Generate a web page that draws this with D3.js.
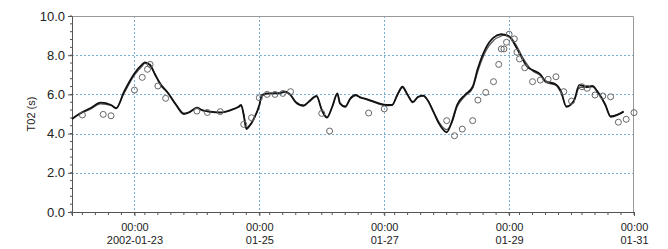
<!DOCTYPE html>
<html>
  <head>
    <script src="https://cdn.jsdelivr.net/npm/d3@7"></script>
    <style>
      body { margin: 0; background: #fff; }
      text { font-family: "Liberation Sans", Arial, sans-serif; font-size: 11px; fill: #222; }
    </style>
  </head>
  <body>
    <div id="chart"></div>
    <script>
      // model times (hours after 2002-01-22 00:00) and T02 values
      const modelHours = [0, 3, 7, 11, 15, 17, 20, 24, 27, 28, 30, 32, 34, 37, 40, 43, 45, 48, 50, 53,
        57, 61, 64, 65, 66, 67, 68, 70, 72, 73, 75, 79, 82, 84, 86, 89, 91, 94, 96, 98, 100, 102, 103,
        105, 107, 109, 111, 113, 116, 118, 121, 123, 125, 127, 129, 131, 133, 135, 137, 139, 141, 144,
        146, 148, 151, 154, 156, 159, 162, 165, 166, 168, 171, 173, 175, 177, 180, 182, 186, 188, 190,
        193, 195, 198, 200, 202, 205, 207, 210, 212];
      const modelA = [4.74, 5.03, 5.29, 5.58, 5.46, 5.29, 6.14, 7.07, 7.53, 7.63, 7.50, 6.99, 6.51, 6.05,
        5.46, 5.00, 5.08, 5.32, 5.20, 5.12, 5.08, 5.20, 5.37, 5.46, 4.95, 4.23, 4.35, 4.78, 5.46, 5.97,
        6.05, 6.05, 6.14, 5.97, 5.60, 5.42, 5.63, 5.92, 5.20, 4.81, 5.37, 6.05, 5.54, 5.37, 5.80, 5.97,
        5.83, 5.77, 5.63, 5.54, 5.46, 5.46, 5.97, 6.39, 5.97, 5.60, 5.88, 5.94, 5.63, 5.08, 4.52, 4.07,
        4.61, 5.46, 5.97, 6.39, 7.33, 8.35, 8.90, 9.07, 9.05, 8.95, 8.35, 7.84, 7.41, 7.24, 7.02, 6.68,
        6.51, 6.14, 5.37, 5.71, 6.48, 6.39, 6.43, 6.14, 5.46, 4.86, 4.98, 5.12];
      const modelB = [4.78, 5.00, 5.25, 5.52, 5.44, 5.32, 6.05, 6.98, 7.45, 7.58, 7.48, 7.02, 6.56, 6.08,
        5.50, 5.04, 5.10, 5.28, 5.18, 5.10, 5.06, 5.18, 5.34, 5.42, 5.00, 4.30, 4.40, 4.80, 5.40, 5.90,
        6.02, 6.08, 6.10, 5.95, 5.62, 5.45, 5.60, 5.88, 5.25, 4.86, 5.33, 6.00, 5.56, 5.40, 5.76, 5.94,
        5.86, 5.74, 5.60, 5.50, 5.42, 5.44, 5.92, 6.34, 5.99, 5.63, 5.85, 5.91, 5.66, 5.12, 4.60, 4.20,
        4.55, 5.35, 5.90, 6.32, 7.18, 8.20, 8.75, 8.98, 9.02, 8.98, 8.45, 7.95, 7.52, 7.20, 6.96, 6.62,
        6.46, 6.06, 5.40, 5.66, 6.36, 6.36, 6.38, 6.12, 5.48, 4.90, 5.00, 5.14];

      // observations
      const obsHours = [4, 12, 15, 24, 27, 29, 30, 33, 36, 48, 52, 57, 66, 69, 72, 75, 78, 81, 84, 96, 99,
        114, 120, 144, 147, 150, 154, 156, 159, 162, 164, 165, 166, 167, 168, 170, 171, 172, 174, 177,
        180, 183, 186, 189, 192, 196, 198, 201, 204, 207, 210, 213, 216];
      const obsValues = [4.95, 4.98, 4.91, 6.22, 6.87, 7.28, 7.53, 6.43, 5.80, 5.15, 5.08, 5.12, 4.47,
        4.81, 5.83, 6.00, 6.00, 6.05, 6.14, 5.03, 4.13, 5.05, 5.26, 4.66, 3.89, 4.23, 4.66, 5.71, 6.10,
        6.65, 7.53, 8.32, 8.32, 8.66, 9.07, 8.83, 8.15, 7.81, 7.36, 6.65, 6.73, 6.77, 6.90, 6.14, 5.66,
        6.39, 6.31, 5.97, 5.92, 5.88, 4.58, 4.73, 5.07];

      const yTicks = [0, 2, 4, 6, 8, 10];
      const xTickDays = ["2002-01-23", "2002-01-25", "2002-01-27", "2002-01-29", "2002-01-31"];
      const yLabel = "T02 (s)";

      const W = 668, H = 249;
      const margin = { top: 16, right: 34, bottom: 37, left: 72 };
      const width = W - margin.left - margin.right;
      const height = H - margin.top - margin.bottom;

      const parse = d3.utcParse("%Y-%m-%d");
      const t0 = parse("2002-01-22");
      const t1 = parse("2002-01-31");
      const hr = (h) => d3.utcHour.offset(t0, h);

      const x = d3.scaleUtc().domain([t0, t1]).range([0, width]);
      const y = d3.scaleLinear().domain([0, 10]).range([height, 0]);

      const svg = d3.select("#chart").append("svg")
        .attr("width", W).attr("height", H)
        .append("g")
        .attr("transform", "translate(" + margin.left + "," + margin.top + ")");

      // grid
      const grid = svg.append("g")
        .attr("stroke", "#7aaed2").attr("stroke-width", 1).attr("stroke-dasharray", "2,2");
      grid.selectAll(".gy").data(yTicks.filter((d) => d > 0 && d < 10)).join("line")
        .attr("x1", 0).attr("x2", width)
        .attr("y1", (d) => Math.round(y(d)) + 0.5).attr("y2", (d) => Math.round(y(d)) + 0.5);
      grid.selectAll(".gx").data(xTickDays.slice(0, -1).map(parse)).join("line")
        .attr("y1", 0).attr("y2", height)
        .attr("x1", (d) => Math.round(x(d)) + 0.5).attr("x2", (d) => Math.round(x(d)) + 0.5);

      // top/right border
      svg.append("path")
        .attr("d", `M0,0.5H${width - 0.5}V${height}`)
        .attr("fill", "none").attr("stroke", "#999");

      // minor ticks
      const yMinor = d3.range(0, 10.01, 0.4);
      const xMinor = d3.range(0, 9 * 24 + 0.1, 4.8).map(hr);

      const yAxis = svg.append("g").attr("class", "y axis")
        .call(d3.axisLeft(y).tickValues(yTicks).tickFormat(d3.format(".1f")).tickSize(4).tickPadding(3));
      yAxis.append("g").selectAll("line").data(yMinor).join("line")
        .attr("x1", -2).attr("x2", 0)
        .attr("y1", (d) => y(d)).attr("y2", (d) => y(d)).attr("stroke", "#555");

      const fmtDate = d3.utcFormat("%m-%d");
      const xAxis = svg.append("g").attr("class", "x axis")
        .attr("transform", "translate(0," + height + ")")
        .call(d3.axisBottom(x).tickValues(xTickDays.map(parse)).tickSize(4).tickFormat(""));
      xAxis.append("g").selectAll("line").data(xMinor).join("line")
        .attr("x1", (d) => x(d)).attr("x2", (d) => x(d))
        .attr("y1", 0).attr("y2", 3).attr("stroke", "#555");
      xAxis.selectAll(".tick").each(function (d, i) {
        const g = d3.select(this);
        g.append("text").attr("y", 19).attr("text-anchor", "middle").text(d3.utcFormat("%H:%M")(d));
        g.append("text").attr("y", 32).attr("text-anchor", "middle")
          .text(i === 0 ? d3.utcFormat("%Y-%m-%d")(d) : fmtDate(d));
      });

      svg.selectAll(".axis path, .axis line").attr("stroke", "#555");
      svg.selectAll(".axis text").attr("fill", "#222").style("font-size", "11px");
      yAxis.selectAll(".tick text").style("font-size", "13px");

      svg.append("text")
        .attr("transform", `translate(${-37},${height / 2}) rotate(-90)`)
        .attr("text-anchor", "middle")
        .text(yLabel);

      // data
      const line = d3.line().x((d) => x(hr(d[0]))).y((d) => y(d[1])).curve(d3.curveMonotoneX);

      svg.append("path")
        .datum(modelHours.map((h, i) => [h, modelB[i]]))
        .attr("fill", "none").attr("stroke", "#555").attr("stroke-width", 1.2)
        .attr("d", line);

      svg.append("path")
        .datum(modelHours.map((h, i) => [h, modelA[i]]))
        .attr("fill", "none").attr("stroke", "#111").attr("stroke-width", 1.8)
        .attr("d", line);

      svg.append("g").selectAll("circle")
        .data(obsHours.map((h, i) => [h, obsValues[i]]))
        .join("circle")
        .attr("cx", (d) => x(hr(d[0]))).attr("cy", (d) => y(d[1]))
        .attr("r", 3).attr("fill", "none").attr("stroke", "#666").attr("stroke-width", 1);
    </script>
  </body>
</html>
